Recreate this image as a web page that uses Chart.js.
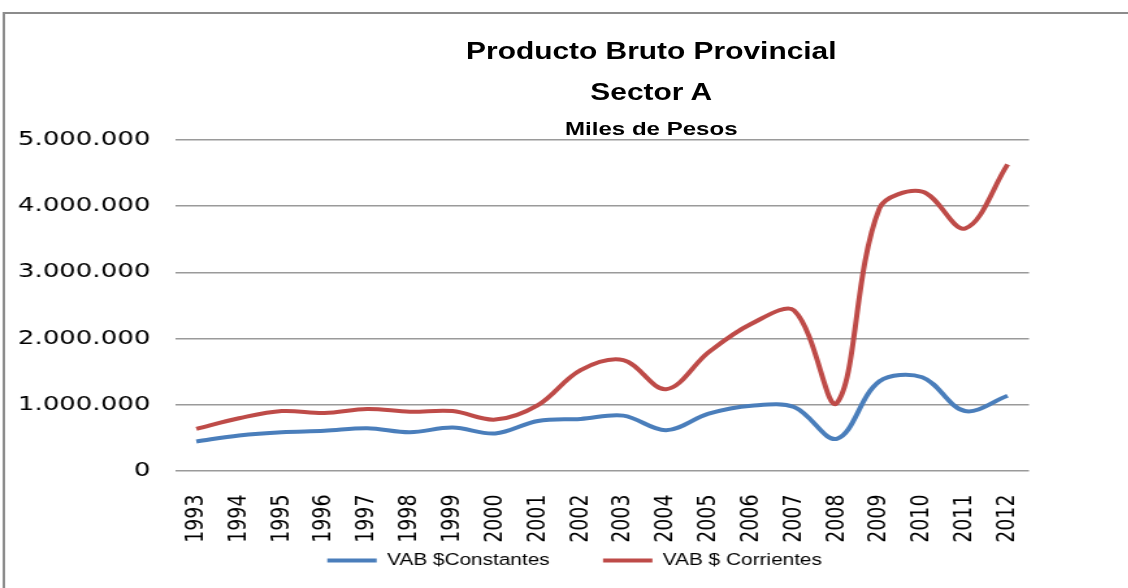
<!DOCTYPE html>
<html>
<head>
<meta charset="utf-8">
<script src="https://cdn.jsdelivr.net/npm/chart.js@4"></script>
<style>
  html, body { margin: 0; padding: 0; background: #fff; overflow: hidden; width: 1128px; height: 588px; }
  #wrap { position: absolute; left: 0; top: 0; width: 884px; height: 630px; transform: scaleX(1.3); transform-origin: 0 0; }
  #frame { position: absolute; left: 2px; top: 12px; width: 2000px; height: 2000px; border: 2px solid #8c8c8c; }
  .ttl { position: absolute; left: 251px; width: 500px; text-align: center; color: #000;
         font-family: "Liberation Sans", Arial, sans-serif; font-weight: bold; line-height: 1; white-space: nowrap; }
  canvas { position: absolute; left: 0; top: 0; }
</style>
</head>
<body>
<div id="wrap">
  <div id="frame"></div>
  <div class="ttl" style="top:39.5px;font-size:23px;">Producto Bruto Provincial</div>
  <div class="ttl" style="top:80.5px;font-size:23px;">Sector A</div>
  <div class="ttl" style="top:120px;font-size:18.5px;">Miles de Pesos</div>
  <canvas id="pbg" width="884" height="630"></canvas>
</div>
<script>
const years = ['1993', '1994', '1995', '1996', '1997', '1998', '1999', '2000', '2001', '2002',
               '2003', '2004', '2005', '2006', '2007', '2008', '2009', '2010', '2011', '2012'];

// miles de pesos
const vabConstantes = [440000, 530000, 580000, 600000, 640000, 580000, 650000, 560000, 750000, 780000,
                       830000, 610000, 860000, 980000, 960000, 480000, 1350000, 1410000, 900000, 1130000];
const vabCorrientes = [630000, 790000, 900000, 870000, 930000, 890000, 900000, 770000, 990000, 1520000,
                       1670000, 1230000, 1790000, 2220000, 2420000, 1020000, 3970000, 4220000, 3660000, 4630000];

const seriesNames = ['VAB $Constantes', 'VAB $ Corrientes'];
const yTicks = [0, 1000000, 2000000, 3000000, 4000000, 5000000];

function miles(v) {
  return String(v).replace(/\B(?=(\d{3})+(?!\d))/g, '.');
}

// the legend needs a wide padding for the gap between items, pull it back up under the labels
const legendLift = {
  id: 'legendLift',
  afterLayout(chart) {
    const lg = chart.legend;
    if (!lg) return;
    lg.top -= 34;
    lg.bottom -= 34;
  }
};

const ctx = document.getElementById('pbg').getContext('2d');

new Chart(ctx, {
  type: 'line',
  data: {
    labels: years,
    datasets: [
      {
        label: seriesNames[0],
        data: vabConstantes,
        borderColor: '#4a7ebb',
        backgroundColor: '#4a7ebb',
        borderWidth: 4,
        pointRadius: 0,
        tension: 0.35
      },
      {
        label: seriesNames[1],
        data: vabCorrientes,
        borderColor: '#be4b48',
        backgroundColor: '#be4b48',
        borderWidth: 4,
        pointRadius: 0,
        tension: 0.35
      }
    ]
  },
  options: {
    responsive: false,
    animation: false,
    devicePixelRatio: 1,
    layout: { padding: { top: 140, left: 0, right: 0, bottom: 17.5 } },
    scales: {
      x: {
        offset: true,
        grid: { display: false },
        border: { display: false },
        ticks: {
          autoSkip: false,
          maxRotation: 90,
          minRotation: 90,
          padding: 16,
          color: '#000',
          font: { family: 'DejaVu Sans', size: 19 }
        },
        afterFit(scale) { scale.height = 75; }
      },
      y: {
        min: 0,
        max: 5000000,
        afterBuildTicks(scale) { scale.ticks = yTicks.map(v => ({ value: v })); },
        grid: { color: '#9a9a9a', lineWidth: 1.4, drawTicks: false },
        border: { display: false },
        ticks: {
          padding: 19,
          color: '#000',
          font: { family: 'DejaVu Sans', size: 20 },
          callback: v => miles(v)
        },
        afterFit(scale) { scale.width = 134.6; }
      },
      yRight: {
        position: 'right',
        display: true,
        grid: { display: false },
        border: { display: false },
        ticks: { display: false },
        afterFit(scale) { scale.width = 92.5; }
      }
    },
    plugins: {
      title: { display: false },
      tooltip: { enabled: false },
      legend: {
        position: 'bottom',
        labels: {
          usePointStyle: true,
          pointStyle: 'line',
          pointStyleWidth: 38,
          padding: 41,
          color: '#000',
          font: { family: 'Liberation Sans', size: 16 }
        }
      }
    }
  },
  plugins: [legendLift]
});
</script>
</body>
</html>
